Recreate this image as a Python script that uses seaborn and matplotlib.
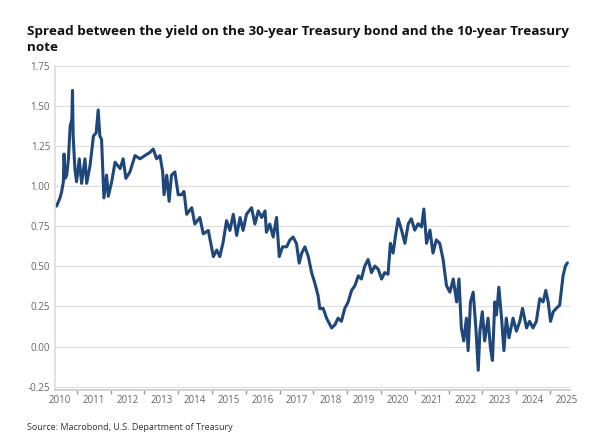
import matplotlib
matplotlib.use("Agg")
import matplotlib.pyplot as plt
import seaborn as sns
import pandas as pd
import numpy as np

years = [2009.90,2010.00,2010.05,2010.10,2010.12,2010.15,2010.20,2010.25,2010.30,2010.35,2010.37,2010.39,2010.44,2010.49,2010.57,2010.64,2010.74,2010.79,2010.89,2010.99,
2011.07,2011.13,2011.18,2011.23,2011.30,2011.38,2011.43,2011.53,2011.63,2011.78,2011.87,2011.95,2012.07,2012.22,2012.37,2012.51,2012.66,2012.76,2012.86,2012.96,
2013.04,2013.08,2013.16,2013.23,2013.30,2013.40,2013.50,2013.60,2013.67,2013.75,2013.90,2013.99,2014.14,2014.24,2014.39,2014.54,2014.64,2014.73,2014.83,2014.93,
2015.03,2015.13,2015.23,2015.33,2015.42,2015.52,2015.67,2015.77,2015.87,2015.97,2016.07,2016.11,2016.21,2016.31,2016.41,2016.49,2016.59,2016.71,2016.80,2016.90,
2017.00,2017.08,2017.15,2017.25,2017.35,2017.45,2017.54,2017.64,2017.69,2017.79,2017.89,2018.04,2018.14,2018.23,2018.33,2018.43,2018.53,2018.63,2018.73,2018.83,2018.92,
2019.02,2019.12,2019.22,2019.32,2019.42,2019.52,2019.61,2019.71,2019.78,2019.86,2019.94,2020.01,2020.11,2020.21,2020.31,2020.40,2020.50,2020.60,2020.70,2020.77,2020.85,2020.95,
2021.04,2021.14,2021.24,2021.34,2021.44,2021.54,2021.64,2021.74,2021.81,2021.88,2021.95,2022.03,2022.08,2022.15,2022.23,2022.31,2022.38,2022.43,2022.50,2022.57,2022.67,2022.74,2022.80,2022.87,2022.92,2022.99,
2023.07,2023.14,2023.21,2023.29,2023.41,2023.51,2023.61,2023.69,2023.81,2023.90,2024.00,2024.10,2024.20,2024.30,2024.38,2024.45,2024.52,2024.60,2024.69,2024.79,2024.89,2024.96,2025.02]
spread = [0.876,0.927,0.967,1.028,1.201,1.049,1.069,1.171,1.374,1.415,1.598,1.313,1.110,1.028,1.171,1.018,1.171,1.018,1.130,1.313,
1.333,1.476,1.313,1.293,0.927,1.069,0.937,1.028,1.150,1.110,1.171,1.049,1.089,1.191,1.171,1.191,1.211,1.232,1.171,1.191,
1.089,0.947,1.069,0.906,1.069,1.089,0.947,0.947,0.967,0.825,0.866,0.764,0.805,0.703,0.724,0.561,0.602,0.561,0.652,0.785,
0.724,0.825,0.693,0.805,0.724,0.825,0.866,0.764,0.846,0.805,0.846,0.713,0.764,0.683,0.805,0.561,0.622,0.622,0.663,0.683,
0.642,0.520,0.581,0.622,0.561,0.459,0.398,0.317,0.236,0.238,0.177,0.116,0.136,0.177,0.157,0.238,0.278,0.350,0.380,0.441,0.421,
0.502,0.543,0.461,0.502,0.482,0.421,0.461,0.451,0.644,0.583,0.705,0.797,0.726,0.644,0.766,0.797,0.726,0.766,0.746,0.858,0.644,0.726,
0.583,0.665,0.644,0.543,0.380,0.339,0.421,0.278,0.421,0.116,0.035,0.177,-0.026,0.278,0.339,0.116,-0.148,0.096,0.217,0.035,0.177,-0.006,-0.087,0.278,0.197,0.370,
0.177,-0.026,0.177,0.055,0.177,0.096,0.157,0.238,0.116,0.157,0.116,0.157,0.299,0.278,0.350,0.278,0.157,0.217,0.238,0.258,0.441,0.502,0.522]
year_labels = list(range(2010, 2026))
y_ticks = [-0.25, 0.00, 0.25, 0.50, 0.75, 1.00, 1.25, 1.50, 1.75]

df = pd.DataFrame({"year": years, "spread": spread})

sns.set_theme(style="white")
plt.rcParams['font.family'] = ['Open Sans', 'DejaVu Sans']
fig = plt.figure(figsize=(5.97, 4.46), dpi=100)
ax = fig.add_axes([0.092, 0.126, 0.863, 0.726])
sns.lineplot(data=df, x="year", y="spread", ax=ax, color="#1f477a", linewidth=2.2)

ax.set_xlim(2009.85, 2025.1)
ax.set_ylim(-0.27, 1.75)
ax.set_yticks(y_ticks)
ax.set_yticklabels([f"{v:.2f}" for v in y_ticks])
ax.set_xticks(year_labels)
ax.set_xticklabels([str(y) for y in year_labels])
ax.set_xticks([y + 0.5 for y in year_labels[:-1]], minor=True)
ax.tick_params(axis="x", which="major", length=0, labelsize=7, colors="#666666", pad=4)
ax.tick_params(axis="x", which="minor", length=3, color="#999999", bottom=True)
ax.tick_params(axis="y", length=0, labelsize=7, colors="#666666")
ax.grid(axis="y", color="#dddddd", linewidth=0.8)
ax.set_xlabel("")
ax.set_ylabel("")
for s in ["top", "right"]:
    ax.spines[s].set_visible(False)
ax.spines["left"].set_color("#dddddd")
ax.spines["bottom"].set_color("#cccccc")

fig.text(0.045, 0.878, "Spread between the yield on the 30-year Treasury bond and the 10-year Treasury\nnote",
         fontsize=9.7, fontweight="bold", color="#111111", va="bottom", linespacing=1.3)
fig.text(0.045, 0.035, "Source: Macrobond, U.S. Department of Treasury", fontsize=6.5, color="#333333")
fig.savefig("out.png", dpi=100)
